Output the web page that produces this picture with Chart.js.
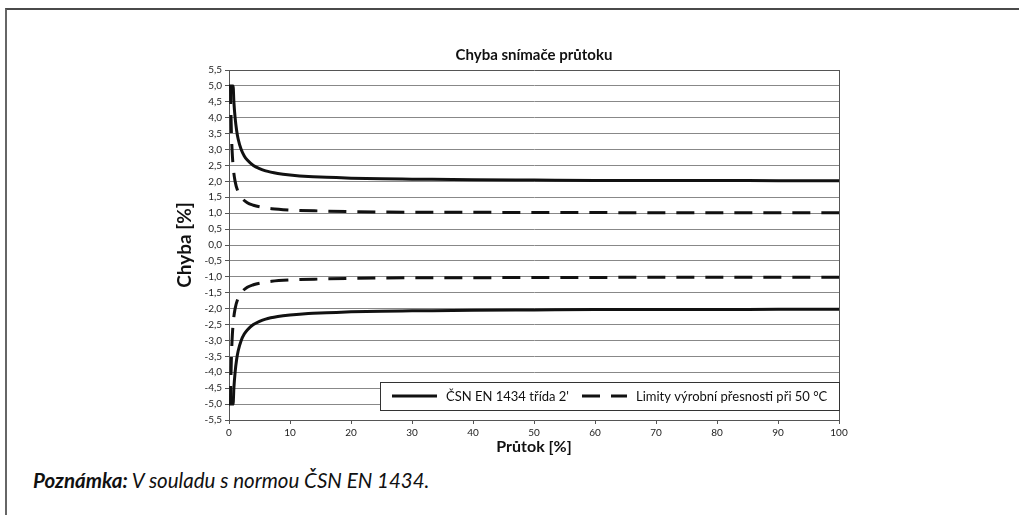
<!DOCTYPE html>
<html>
<head>
<meta charset="utf-8">
<script src="https://cdn.jsdelivr.net/npm/chart.js@4/dist/chart.umd.min.js"></script>
<style>
  html, body { margin: 0; padding: 0; background: #fff; }
  body { width: 1019px; height: 515px; position: relative; overflow: hidden; font-family: Lato, "Open Sans", sans-serif; }
  .frame { position: absolute; left: 5px; top: 8px; right: 0; bottom: -4px; border-top: 2px solid #4a4a4a; border-left: 2px solid #666; }
  .chart-box { position: absolute; left: 0; top: 0; width: 1019px; height: 460px; }
  .note { position: absolute; left: 33px; top: 468px; font-size: 20.5px; font-style: italic; color: #111; }
  .note b { font-weight: 700; }
</style>
</head>
<body>
<div class="frame"></div>
<div class="chart-box"><canvas id="errorChart" width="1019" height="460"></canvas></div>
<div class="note"><b>Poznámka:</b> V souladu s normou ČSN EN 1434.</div>
<script>
const FONT = "Lato, 'Open Sans', sans-serif";
const chartTitle = "Chyba snímače průtoku";

// ČSN EN 1434 třída 2 (solid)
const normFlow = [0, 0.67, 0.8, 1, 1.25, 1.5, 2, 2.5, 3, 4, 5, 6, 8, 10, 13, 16, 20, 25, 30, 40, 50, 60, 70, 80, 90, 100];
const normUpper = [5, 5, 4.5, 4, 3.6, 3.33, 3, 2.8, 2.67, 2.5, 2.4, 2.33, 2.25, 2.2, 2.15, 2.13, 2.1, 2.08, 2.07, 2.05, 2.04, 2.03, 2.03, 2.03, 2.02, 2.02];
const normLower = [-5, -5, -4.5, -4, -3.6, -3.33, -3, -2.8, -2.67, -2.5, -2.4, -2.33, -2.25, -2.2, -2.15, -2.13, -2.1, -2.08, -2.07, -2.05, -2.04, -2.03, -2.03, -2.03, -2.02, -2.02];

// Limity výrobní přesnosti při 50 °C (dashed)
const makerFlow = [0.25, 0.3, 0.4, 0.5, 0.7, 1, 1.5, 2, 3, 4, 5, 7, 10, 15, 20, 30, 40, 50, 60, 70, 80, 90, 100];
const makerUpper = [5, 4.33, 3.5, 3, 2.43, 2, 1.67, 1.5, 1.33, 1.25, 1.2, 1.14, 1.1, 1.07, 1.05, 1.03, 1.03, 1.02, 1.02, 1.01, 1.01, 1.01, 1.01];
const makerLower = [-5, -4.33, -3.5, -3, -2.43, -2, -1.67, -1.5, -1.33, -1.25, -1.2, -1.14, -1.1, -1.07, -1.05, -1.03, -1.03, -1.02, -1.02, -1.01, -1.01, -1.01, -1.01];

const legendLabels = ["ČSN EN 1434 třída 2'", "Limity výrobní přesnosti při 50 °C"];

function toPoints(xs, ys) {
  return xs.map((x, i) => ({ x, y: ys[i] }));
}

function lineSet(label, xs, ys, dash, inLegend) {
  return {
    label,
    data: toPoints(xs, ys),
    borderColor: "#111",
    borderWidth: 3,
    borderDash: dash,
    borderCapStyle: "butt",
    pointRadius: 0,
    fill: false,
    cubicInterpolationMode: "monotone",
    inLegend
  };
}

// title centred over the plot area, legend box in its lower right corner
const decorations = {
  id: "decorations",
  afterDraw(chart) {
    const { ctx, chartArea } = chart;
    ctx.save();
    ctx.fillStyle = "#111";
    ctx.font = "bold 15px " + FONT;
    ctx.textAlign = "center";
    ctx.textBaseline = "middle";
    ctx.fillText(chartTitle, (chartArea.left + chartArea.right) / 2, chartArea.top - 15);

    const right = chartArea.right;
    const left = 380;
    const top = chartArea.bottom - 38;
    const h = 28;
    ctx.fillStyle = "#fff";
    ctx.fillRect(left, top, right - left, h);
    ctx.strokeStyle = "#333";
    ctx.lineWidth = 1;
    ctx.strokeRect(left + 0.5, top + 0.5, right - left, h);

    const items = chart.data.datasets.filter((d) => d.inLegend);
    const starts = [392, 582];
    const midY = top + h / 2;
    ctx.textAlign = "left";
    items.forEach((ds, i) => {
      const x0 = starts[i];
      ctx.beginPath();
      ctx.strokeStyle = ds.borderColor;
      ctx.lineWidth = ds.borderWidth;
      ctx.setLineDash(ds.borderDash || []);
      ctx.moveTo(x0, midY);
      ctx.lineTo(x0 + 45, midY);
      ctx.stroke();
      ctx.setLineDash([]);
      ctx.fillStyle = "#111";
      ctx.font = "13px " + FONT;
      ctx.fillText(ds.label, x0 + 54, midY + 1);
    });
    ctx.restore();
  }
};

new Chart(document.getElementById("errorChart"), {
  type: "line",
  data: {
    datasets: [
      lineSet(legendLabels[0], normFlow, normUpper, [], true),
      lineSet(legendLabels[0], normFlow, normLower, [], false),
      lineSet(legendLabels[1], makerFlow, makerUpper, [18, 11], true),
      lineSet(legendLabels[1], makerFlow, makerLower, [18, 11], false)
    ]
  },
  options: {
    responsive: false,
    animation: false,
    layout: { padding: { left: 172, right: 180, top: 70, bottom: 0 } },
    plugins: {
      legend: { display: false },
      tooltip: { enabled: false },
      title: { display: false }
    },
    scales: {
      x: {
        type: "linear",
        min: 0,
        max: 100,
        afterFit: (scale) => { scale.height = 40; },
        ticks: { stepSize: 10, color: "#222", font: { family: FONT, size: 10 }, padding: 3, maxRotation: 0 },
        grid: {
          color: (c) => (c.tick && c.tick.value === 100 ? "#555" : "rgba(0,0,0,0)"),
          tickColor: "#555",
          tickLength: 4
        },
        border: { color: "#555", width: 1 },
        title: {
          display: true,
          text: "Průtok [%]",
          color: "#111",
          font: { family: FONT, size: 16, weight: "bold" },
          padding: { top: 0, bottom: 4 }
        }
      },
      y: {
        min: -5.5,
        max: 5.5,
        afterFit: (scale) => { scale.width = 57; },
        ticks: {
          stepSize: 0.5,
          color: "#222",
          font: { family: FONT, size: 10 },
          padding: 3,
          callback: (v) => v.toFixed(1).replace(".", ",")
        },
        grid: {
          color: (c) => (c.tick && c.tick.value === 5.5 ? "#555" : "#888"),
          tickColor: "#555",
          tickLength: 4
        },
        border: { color: "#555", width: 1 },
        title: {
          display: true,
          text: "Chyba [%]",
          color: "#111",
          font: { family: FONT, size: 19, weight: "bold" },
          padding: { top: 1, bottom: 0 }
        }
      }
    }
  },
  plugins: [decorations]
});
</script>
</body>
</html>
